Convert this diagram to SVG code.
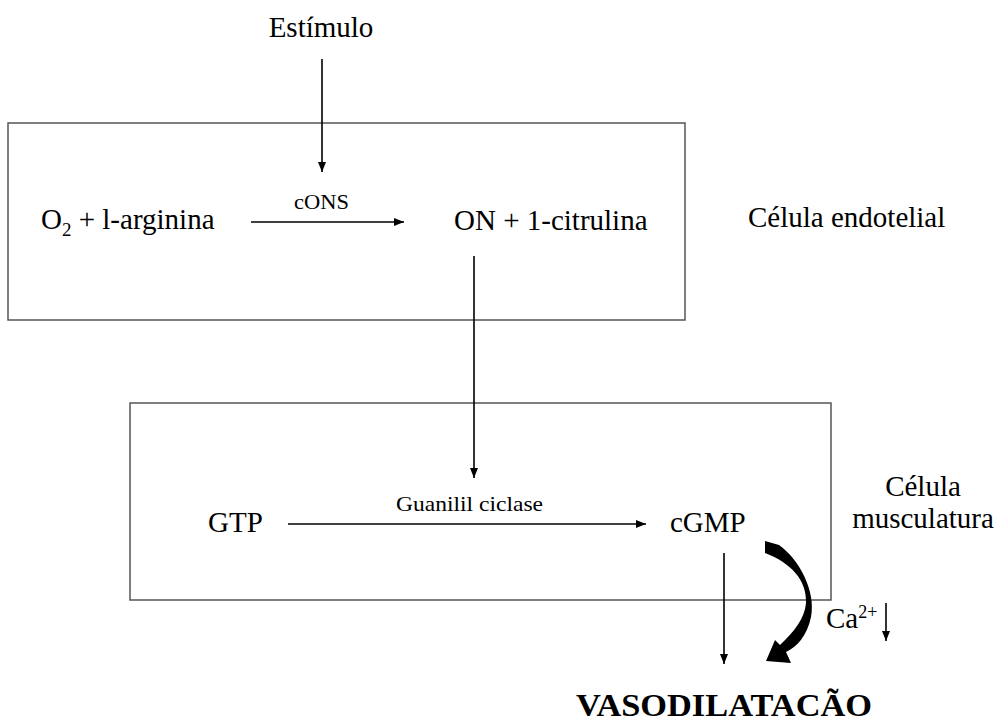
<svg xmlns="http://www.w3.org/2000/svg" width="994" height="723" viewBox="0 0 994 723">
<defs>
<marker id="ah" markerUnits="userSpaceOnUse" markerWidth="10" markerHeight="8" refX="10" refY="4" orient="auto">
<path d="M0,0 L10,4 L0,8 z" fill="#000"/>
</marker>
<style>
text{font-family:"Liberation Serif","Times New Roman",serif;fill:#000}
.t{font-size:29px}
.s{font-size:21px}
.box{fill:none;stroke:#555;stroke-width:1.5}
.ln{stroke:#000;stroke-width:1.6;fill:none}
</style>
</defs>
<rect width="994" height="723" fill="#fff"/>
<g id="endothelial-box"><rect class="box" x="8" y="123" width="677" height="197"/></g>
<g id="muscle-box"><rect class="box" x="130" y="403" width="701" height="197"/></g>
<g id="estimulo"><text class="t" x="321" y="37" text-anchor="middle">Estímulo</text></g>
<g id="reactants"><text class="t" x="41" y="229">O<tspan font-size="19" dy="7">2</tspan><tspan dy="-7"> + l-arginina</tspan></text></g>
<g id="cons"><text class="s" x="294" y="209" textLength="55" lengthAdjust="spacingAndGlyphs">cONS</text></g>
<g id="products"><text class="t" x="454" y="230">ON + 1-citrulina</text></g>
<g id="celula-endotelial"><text class="t" x="748" y="227">Célula endotelial</text></g>
<g id="gtp"><text class="t" x="208" y="532">GTP</text></g>
<g id="guanilil"><text class="s" x="396" y="511" font-size="23" textLength="147" lengthAdjust="spacingAndGlyphs">Guanilil ciclase</text></g>
<g id="cgmp"><text class="t" x="670" y="532">cGMP</text></g>
<g id="celula-musculatura"><text class="t" x="923" y="496" text-anchor="middle">Célula</text><text class="t" x="923" y="528" text-anchor="middle">musculatura</text></g>
<g id="calcium"><text class="t" x="826" y="628">Ca<tspan font-size="18" dy="-10">2+</tspan></text></g>
<g id="vasodilatacao"><text x="576" y="716" font-size="32" font-weight="bold" textLength="296" lengthAdjust="spacingAndGlyphs">VASODILATACÃO</text></g>
<g id="connectors">
<line class="ln" x1="322" y1="59" x2="322" y2="172" marker-end="url(#ah)"/>
<line class="ln" x1="251" y1="222" x2="404" y2="222" marker-end="url(#ah)"/>
<line class="ln" x1="474" y1="256" x2="474" y2="478" marker-end="url(#ah)"/>
<line class="ln" x1="288" y1="524" x2="646" y2="524" marker-end="url(#ah)"/>
<line class="ln" x1="724" y1="553" x2="724" y2="664" marker-end="url(#ah)"/>
<line class="ln" x1="886" y1="603" x2="886" y2="641" marker-end="url(#ah)"/>
<path d="M765,541 L779,545 C800,560 816,592 811,617 C807,636 797,647 786,652 L791,663 L766,661 L775,640 L780,645 C794,632 805,618 806,603 C807,580 791,563 765,553 Z" fill="#000"/>
</g>
</svg>
